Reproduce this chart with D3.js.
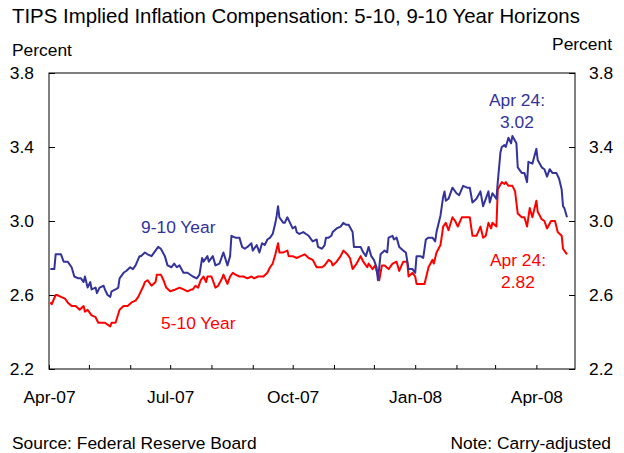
<!DOCTYPE html>
<html>
<head>
<meta charset="utf-8">
<script src="https://cdn.jsdelivr.net/npm/d3@7"></script>
<style>
  body { margin: 0; background: #fff; }
  svg { display: block; font-family: "Liberation Sans", Arial, sans-serif; }
</style>
</head>
<body>
<svg width="624" height="453"></svg>
<script>
// 9-10 year horizon (blue)
const dates910 = [
  "2007-04-02","2007-04-05","2007-04-06","2007-04-10","2007-04-12","2007-04-15","2007-04-18","2007-04-20",
  "2007-04-23","2007-04-25","2007-04-27","2007-04-28","2007-04-30","2007-05-02","2007-05-03","2007-05-06",
  "2007-05-07","2007-05-09","2007-05-12","2007-05-13","2007-05-15","2007-05-17","2007-05-18","2007-05-21",
  "2007-05-23","2007-05-24","2007-05-27","2007-05-29","2007-06-01","2007-06-03","2007-06-05","2007-06-08",
  "2007-06-09","2007-06-12","2007-06-14","2007-06-17","2007-06-19","2007-06-22","2007-06-24","2007-06-27",
  "2007-06-29","2007-07-02","2007-07-04","2007-07-06","2007-07-08","2007-07-11","2007-07-14","2007-07-18",
  "2007-07-21","2007-07-23","2007-07-25","2007-07-26","2007-07-29","2007-07-30","2007-08-02","2007-08-04",
  "2007-08-07","2007-08-09","2007-08-10","2007-08-13","2007-08-15","2007-08-16","2007-08-19","2007-08-22",
  "2007-08-24","2007-08-26","2007-08-28","2007-08-31","2007-09-01","2007-09-04","2007-09-06","2007-09-08",
  "2007-09-10","2007-09-12","2007-09-14","2007-09-16","2007-09-18","2007-09-19","2007-09-20","2007-09-21",
  "2007-09-24","2007-09-25","2007-09-27","2007-09-29","2007-10-01","2007-10-03","2007-10-04","2007-10-06",
  "2007-10-09","2007-10-11","2007-10-13","2007-10-16","2007-10-19","2007-10-20","2007-10-23","2007-10-25",
  "2007-10-26","2007-10-28","2007-10-30","2007-10-31","2007-11-03","2007-11-06","2007-11-08","2007-11-10",
  "2007-11-12","2007-11-15","2007-11-16","2007-11-18","2007-11-21","2007-11-23","2007-11-25","2007-11-27",
  "2007-11-29","2007-12-01","2007-12-03","2007-12-04","2007-12-06","2007-12-09","2007-12-11","2007-12-12",
  "2007-12-15","2007-12-16","2007-12-18","2007-12-20","2007-12-23","2007-12-25","2007-12-27","2007-12-30",
  "2008-01-01","2008-01-02","2008-01-05","2008-01-07","2008-01-09","2008-01-11","2008-01-14","2008-01-16",
  "2008-01-17","2008-01-20","2008-01-22","2008-01-23","2008-01-24","2008-01-26","2008-01-28","2008-01-29",
  "2008-02-01","2008-02-03","2008-02-06","2008-02-09","2008-02-11","2008-02-13","2008-02-16","2008-02-19",
  "2008-02-21","2008-02-23","2008-02-25","2008-02-26","2008-02-28","2008-03-02","2008-03-03","2008-03-05",
  "2008-03-06","2008-03-08","2008-03-09","2008-03-11","2008-03-13","2008-03-14","2008-03-17","2008-03-18",
  "2008-03-21","2008-03-23","2008-03-25","2008-03-26","2008-03-29","2008-04-01","2008-04-02","2008-04-05",
  "2008-04-07","2008-04-09","2008-04-11","2008-04-13","2008-04-16","2008-04-18","2008-04-20","2008-04-21",
  "2008-04-22","2008-04-24"
];
const values910 = [
  2.74,2.74,2.82,2.82,2.78,2.78,2.75,2.70, 2.69,2.69,2.67,2.70,2.64,2.67,2.63,2.64,
  2.61,2.64,2.65,2.63,2.60,2.59,2.62,2.63, 2.64,2.69,2.72,2.73,2.75,2.74,2.76,2.81,
  2.81,2.83,2.82,2.81,2.83,2.86,2.85,2.81, 2.76,2.75,2.77,2.75,2.76,2.72,2.72,2.70,
  2.69,2.71,2.80,2.78,2.81,2.78,2.81,2.76, 2.77,2.81,2.83,2.76,2.81,2.92,2.91,2.91,
  2.86,2.85,2.86,2.88,2.84,2.87,2.83,2.88, 2.87,2.90,2.91,2.93,2.99,3.03,3.08,3.02,
  2.99,2.99,3.02,2.99,2.96,2.97,2.94,2.93, 2.94,2.93,2.92,2.89,2.90,2.86,2.85,2.87,
  2.91,2.91,2.92,2.94,2.96,2.97,2.99,2.98, 2.98,2.94,2.86,2.86,2.86,2.83,2.81,2.86,
  2.81,2.79,2.75,2.68,2.82,2.84,2.83,2.91, 2.92,2.90,2.91,2.86,2.84,2.83,2.74,2.74,
  2.72,2.81,2.81,2.80,2.90,2.91,2.91,2.89, 2.94,3.03,3.13,3.16,3.11,3.12,3.16,3.18,
  3.15,3.14,3.19,3.18,3.18,3.10,3.12,3.16, 3.08,3.12,3.16,3.10,3.15,3.12,3.21,3.37,
  3.40,3.41,3.40,3.45,3.42,3.46,3.42,3.29, 3.26,3.26,3.21,3.32,3.31,3.39,3.33,3.29,
  3.28,3.24,3.28,3.26,3.26,3.23,3.17,3.08, 3.07,3.02
];

// 5-10 year horizon (red)
const dates510 = [
  "2007-04-02","2007-04-03","2007-04-06","2007-04-07","2007-04-10","2007-04-13","2007-04-15","2007-04-18",
  "2007-04-21","2007-04-24","2007-04-27","2007-04-28","2007-04-30","2007-05-03","2007-05-06","2007-05-08",
  "2007-05-10","2007-05-13","2007-05-15","2007-05-17","2007-05-18","2007-05-21","2007-05-24","2007-05-27",
  "2007-05-30","2007-06-02","2007-06-05","2007-06-07","2007-06-11","2007-06-12","2007-06-14","2007-06-17",
  "2007-06-20","2007-06-21","2007-06-24","2007-06-26","2007-06-28","2007-07-01","2007-07-05","2007-07-08",
  "2007-07-11","2007-07-14","2007-07-17","2007-07-18","2007-07-20","2007-07-22","2007-07-24","2007-07-26",
  "2007-07-28","2007-07-29","2007-08-01","2007-08-04","2007-08-06","2007-08-09","2007-08-10","2007-08-13",
  "2007-08-15","2007-08-17","2007-08-19","2007-08-22","2007-08-25","2007-08-28","2007-08-31","2007-09-02",
  "2007-09-05","2007-09-09","2007-09-12","2007-09-14","2007-09-16","2007-09-18","2007-09-20","2007-09-21",
  "2007-09-24","2007-09-27","2007-09-28","2007-10-01","2007-10-04","2007-10-07","2007-10-10","2007-10-13",
  "2007-10-16","2007-10-19","2007-10-23","2007-10-25","2007-10-28","2007-10-30","2007-10-31","2007-11-03",
  "2007-11-06","2007-11-08","2007-11-11","2007-11-13","2007-11-15","2007-11-18","2007-11-21","2007-11-23",
  "2007-11-26","2007-11-27","2007-11-30","2007-12-02","2007-12-03","2007-12-05","2007-12-07","2007-12-09",
  "2007-12-12","2007-12-15","2007-12-18","2007-12-20","2007-12-23","2007-12-26","2007-12-27","2007-12-30",
  "2008-01-01","2008-01-02","2008-01-06","2008-01-08","2008-01-11","2008-01-14","2008-01-15","2008-01-17",
  "2008-01-20","2008-01-22","2008-01-24","2008-01-26","2008-01-29","2008-01-31","2008-02-02","2008-02-05",
  "2008-02-08","2008-02-11","2008-02-13","2008-02-16","2008-02-19","2008-02-21","2008-02-23","2008-02-25",
  "2008-02-27","2008-02-28","2008-03-02","2008-03-03","2008-03-06","2008-03-08","2008-03-09","2008-03-11",
  "2008-03-14","2008-03-16","2008-03-18","2008-03-21","2008-03-23","2008-03-25","2008-03-27","2008-03-29",
  "2008-04-01","2008-04-02","2008-04-05","2008-04-07","2008-04-09","2008-04-12","2008-04-15","2008-04-17",
  "2008-04-20","2008-04-21","2008-04-22","2008-04-24"
];
const values510 = [
  2.56,2.55,2.60,2.60,2.59,2.58,2.56,2.54, 2.54,2.52,2.54,2.51,2.52,2.49,2.48,2.45,
  2.45,2.45,2.44,2.43,2.45,2.45,2.52,2.54, 2.54,2.56,2.57,2.59,2.65,2.67,2.68,2.65,
  2.67,2.71,2.71,2.68,2.64,2.62,2.63,2.64, 2.63,2.62,2.63,2.63,2.65,2.64,2.68,2.70,
  2.67,2.70,2.70,2.64,2.65,2.69,2.71,2.66, 2.70,2.72,2.71,2.70,2.70,2.69,2.70,2.69,
  2.70,2.70,2.72,2.75,2.77,2.82,2.88,2.83, 2.83,2.84,2.81,2.81,2.80,2.81,2.82,2.80,
  2.79,2.75,2.75,2.76,2.79,2.78,2.76,2.78, 2.81,2.84,2.82,2.80,2.74,2.77,2.81,2.78,
  2.75,2.77,2.74,2.76,2.73,2.68,2.76,2.76, 2.74,2.77,2.78,2.73,2.78,2.78,2.70,2.72,
  2.70,2.66,2.66,2.66,2.75,2.79,2.77,2.83, 2.87,2.97,2.99,2.95,3.02,3.00,2.97,3.02,
  3.02,3.02,2.92,2.92,2.97,2.91,2.92,2.99, 2.96,2.99,2.97,3.17,3.21,3.20,3.21,3.19,
  3.19,3.16,3.04,3.02,3.02,2.97,3.07,3.02, 3.11,3.05,3.01,3.00,2.96,3.00,3.00,2.94,
  2.92,2.85,2.84,2.82
];

const yTicks = [2.2, 2.6, 3.0, 3.4, 3.8];
const labelMonths = [3, 6, 9, 0]; // Apr, Jul, Oct, Jan

const parse = d3.timeParse("%Y-%m-%d");
const series910 = dates910.map((d, i) => ({date: parse(d), value: values910[i]}));
const series510 = dates510.map((d, i) => ({date: parse(d), value: values510[i]}));

const svg = d3.select("svg");
const plotLeft = 49, plotRight = 575, plotTop = 73, plotBottom = 369;

const x = d3.scaleTime()
  .domain([new Date(2007, 3, 1), new Date(2008, 3, 30)])
  .range([plotLeft, plotRight]);
const y = d3.scaleLinear().domain([2.2, 3.8]).range([plotBottom, plotTop]);

const fontSize = "17.4px";

// title
svg.append("text")
  .attr("x", 12).attr("y", 23)
  .style("font-size", "20.4px")
  .text("TIPS Implied Inflation Compensation: 5-10, 9-10 Year Horizons");

svg.append("text").attr("x", 12).attr("y", 56).style("font-size", fontSize).text("Percent");
svg.append("text").attr("x", 612).attr("y", 50).attr("text-anchor", "end")
  .style("font-size", fontSize).text("Percent");

// axes
const yLeft = svg.append("g")
  .attr("transform", `translate(${plotLeft},0)`)
  .call(d3.axisLeft(y).tickValues(yTicks).tickFormat(d3.format(".1f"))
    .tickSizeInner(-6).tickSizeOuter(0).tickPadding(15));
const yRight = svg.append("g")
  .attr("transform", `translate(${plotRight},0)`)
  .call(d3.axisRight(y).tickValues(yTicks).tickFormat(d3.format(".1f"))
    .tickSizeInner(-6).tickSizeOuter(0).tickPadding(14));

const xAxis = svg.append("g")
  .attr("transform", `translate(0,${plotBottom})`)
  .call(d3.axisBottom(x).ticks(d3.timeMonth.every(1))
    .tickFormat(d => labelMonths.includes(d.getMonth()) ? d3.timeFormat("%b-%y")(d) : "")
    .tickSizeInner(-4).tickSizeOuter(0));

[yLeft, yRight, xAxis].forEach(g => {
  g.select(".domain").remove();
  g.selectAll("text").style("font-size", fontSize).attr("fill", "#000")
    .style("font-family", "'Liberation Sans', Arial, sans-serif");
  g.selectAll("line").attr("stroke", "#000");
});
xAxis.selectAll("text").attr("dy", null).attr("y", 34);

svg.append("rect")
  .attr("x", plotLeft).attr("y", plotTop)
  .attr("width", plotRight - plotLeft).attr("height", plotBottom - plotTop)
  .attr("fill", "none").attr("stroke", "#000").attr("stroke-width", 1);

// lines
const line = d3.line().x(d => x(d.date)).y(d => y(d.value));

svg.append("path").datum(series510)
  .attr("fill", "none").attr("stroke", "#ff0000").attr("stroke-width", 2)
  .attr("stroke-linejoin", "round").attr("d", line);
svg.append("path").datum(series910)
  .attr("fill", "none").attr("stroke", "#333399").attr("stroke-width", 2)
  .attr("stroke-linejoin", "round").attr("d", line);

// annotations
const note = (tx, ty, txt, col, anchor) => svg.append("text")
  .attr("x", tx).attr("y", ty).attr("fill", col)
  .attr("text-anchor", anchor || "start")
  .style("font-size", fontSize).text(txt);

note(141, 233, "9-10 Year", "#333399");
note(161, 329, "5-10 Year", "#ff0000");
note(517, 106, "Apr 24:", "#333399", "middle");
note(517, 128, d3.format(".2f")(values910[values910.length - 1]), "#333399", "middle");
note(518, 266, "Apr 24:", "#ff0000", "middle");
note(518, 288, d3.format(".2f")(values510[values510.length - 1]), "#ff0000", "middle");

note(12, 449, "Source: Federal Reserve Board", "#000");
note(611, 449, "Note: Carry-adjusted", "#000", "end");
</script>
</body>
</html>
